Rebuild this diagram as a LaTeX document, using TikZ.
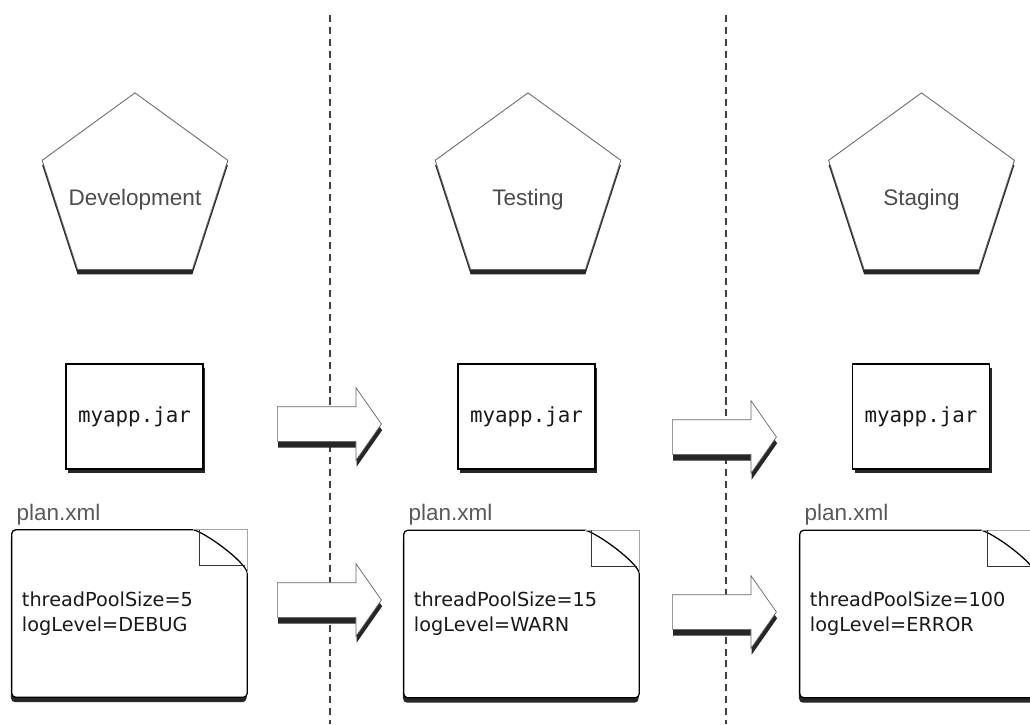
\documentclass[tikz,border=0pt]{standalone}
\usepackage{fontspec}
\setmainfont{Liberation Sans}
\newfontfamily\planfont{DejaVu Sans}
\newfontfamily\jarfont{DejaVu Sans Mono}
\usetikzlibrary{shapes.geometric,shapes.arrows,shadows,calc,backgrounds}

\begin{document}
\begin{tikzpicture}
        [x=0.025cm, y=-0.025cm,
        stage/.style={regular polygon, regular polygon sides=5, minimum size=4.88cm, inner sep=0pt,
            draw=black!60, line width=0.6pt, fill=white,
            drop shadow={shadow xshift=0pt, shadow yshift=-3.5pt, fill=black!85, opacity=1}},
        stagelabel/.style={font=\fontsize{16}{19}\selectfont, text=black!70, yshift=-0.24cm},
        jar/.style={rectangle, draw=black, line width=0.8pt, fill=white,
            minimum width=3.425cm, minimum height=2.625cm, text=black!90,
            font=\jarfont\fontsize{14.8}{18}\selectfont,
            drop shadow={shadow xshift=1.5pt, shadow yshift=-3pt, fill=black!85, opacity=1}},
        plan/.style={rectangle, inner sep=0pt, minimum width=5.875cm, minimum height=4.175cm,
            text width=5.375cm, align=left, text=black!90,
            font=\planfont\fontsize{13.7}{17.8}\selectfont},
        filelabel/.style={anchor=south west, font=\fontsize{16}{19}\selectfont, text=black!65},
        sheet/.style={draw=black, line width=0.9pt, fill=white,
            drop shadow={shadow xshift=-0.5pt, shadow yshift=-3.5pt, fill=black!85, opacity=1}},
        ghost/.style={draw=black!35, line width=0.6pt},
        fold/.style={draw=black!80, line width=0.7pt},
        movearrow/.style={single arrow, single arrow tip angle=110, single arrow head extend=0.475cm,
            minimum height=2.6cm, inner xsep=0pt, inner ysep=0.425cm,
            draw=black!60, line width=0.5pt, fill=white,
            drop shadow={shadow xshift=0.5pt, shadow yshift=-4.5pt, fill=black!85, opacity=1}},
        divider/.style={draw=black!75, line width=1pt, dash pattern=on 5pt off 3.5pt}]

        \useasboundingbox (0,0) rectangle (1030,724);
        \clip (0,0) rectangle (1030,724);

        % dashed dividers between the environments
        \draw[divider] (330,15) -- (330,724);
        \draw[divider] (726,15) -- (726,724);

        % environments
        \node[stage, label={[stagelabel]center:Development}] (dev) at (135,190.5) {};
        \node[stage, label={[stagelabel]center:Testing}] (test) at (528,190.5) {};
        \node[stage, label={[stagelabel]center:Staging}] (stage) at (921.5,190.5) {};

        % the same jar everywhere
        \node[jar] (devjar) at (134.5,416.5) {myapp.jar};
        \node[jar] (testjar) at (526.5,416.5) {myapp.jar};
        \node[jar] (stagejar) at (921,416.5) {myapp.jar};

        % deployment plans
        \node[plan, label={[filelabel]north west:plan.xml}] (devplan) at (129.5,613.5)
            {threadPoolSize=5\\logLevel=DEBUG};
        \node[plan, label={[filelabel]north west:plan.xml}] (testplan) at (521.5,614)
            {threadPoolSize=15\\logLevel=WARN};
        \node[plan, label={[filelabel]north west:plan.xml}] (stageplan) at (917.5,614)
            {threadPoolSize=100\\logLevel=ERROR};

        % sheets with folded corner behind the plan text
        \begin{scope}[on background layer]
        \draw[sheet] ($(devplan.north east)+(-54,0)$) .. controls ($(devplan.north east)+(-42,3)$) and ($(devplan.north east)+(-3,31)$) .. ($(devplan.north east)+(0,43)$)
            [rounded corners=3pt] -- (devplan.south east) -- (devplan.south west) -- (devplan.north west) [sharp corners] -- cycle;
        \draw[ghost] ($(devplan.north east)+(-54,0)$) -| ($(devplan.north east)+(0,43)$);
        \draw[fold] ($(devplan.north east)+(-48,0)$) |- ($(devplan.north east)+(-2,36)$);

        \draw[sheet] ($(testplan.north east)+(-54,0)$) .. controls ($(testplan.north east)+(-42,3)$) and ($(testplan.north east)+(-3,31)$) .. ($(testplan.north east)+(0,43)$)
            [rounded corners=3pt] -- (testplan.south east) -- (testplan.south west) -- (testplan.north west) [sharp corners] -- cycle;
        \draw[ghost] ($(testplan.north east)+(-54,0)$) -| ($(testplan.north east)+(0,43)$);
        \draw[fold] ($(testplan.north east)+(-48,0)$) |- ($(testplan.north east)+(-2,36)$);

        \draw[sheet] ($(stageplan.north east)+(-54,0)$) .. controls ($(stageplan.north east)+(-42,3)$) and ($(stageplan.north east)+(-3,31)$) .. ($(stageplan.north east)+(0,43)$)
            [rounded corners=3pt] -- (stageplan.south east) -- (stageplan.south west) -- (stageplan.north west) [sharp corners] -- cycle;
        \draw[ghost] ($(stageplan.north east)+(-54,0)$) -| ($(stageplan.north east)+(0,43)$);
        \draw[fold] ($(stageplan.north east)+(-48,0)$) |- ($(stageplan.north east)+(-2,36)$);
        \end{scope}

        % promotion arrows
        \node[movearrow, anchor=tail] (jarmove1) at (277,424) {};
        \node[movearrow, anchor=tail] (planmove1) at (277,600) {};
        \node[movearrow, anchor=tail] (jarmove2) at (672,437) {};
        \node[movearrow, anchor=tail] (planmove2) at (672,612) {};

        \end{tikzpicture}
\end{document}
